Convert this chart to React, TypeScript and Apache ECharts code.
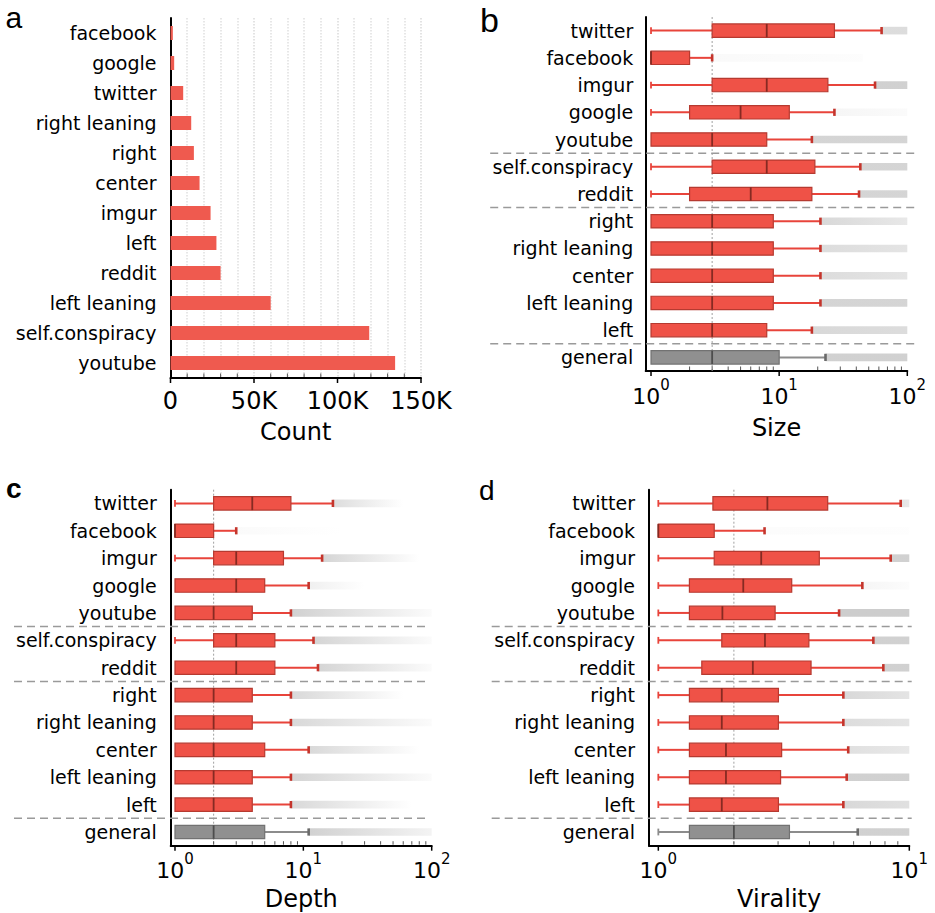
import React, { useEffect, useRef } from 'react';
import * as echarts from 'echarts';

const FONT = 'DejaVu Sans';

// ---- Panel a: counts ----
const countCategories = ['facebook', 'google', 'twitter', 'right leaning', 'right', 'center', 'imgur', 'left', 'reddit', 'left leaning', 'self.conspiracy', 'youtube'];
const countValues = [1400, 2200, 7600, 12400, 14000, 17400, 24000, 27500, 30000, 60000, 119000, 134500];
const countMajorTicks = [0, 50000, 100000, 150000];
const countTickLabels = ['0', '50K', '100K', '150K'];
const countMinorTicks = [10000, 20000, 30000, 40000, 60000, 70000, 80000, 90000, 110000, 120000, 130000, 140000];

// ---- Panels b, c, d: box plots ----
const boxCategories = ['twitter', 'facebook', 'imgur', 'google', 'youtube', 'self.conspiracy', 'reddit', 'right', 'right leaning', 'center', 'left leaning', 'left', 'general'];
const groupBreaks = [4, 6, 11];

// Size
const sizeMin = [1, 1, 1, 1, 1, 1, 1, 1, 1, 1, 1, 1, 1];
const sizeQ1 = [3, 1, 3, 2, 1, 3, 2, 1, 1, 1, 1, 1, 1];
const sizeMed = [8, 1, 8, 5, 3, 8, 6, 3, 3, 3, 3, 3, 3];
const sizeQ3 = [27, 2, 24, 12, 8, 19, 18, 9, 9, 9, 9, 8, 10];
const sizeMax = [63, 3, 56, 27, 18, 43, 42, 21, 21, 21, 21, 18, 23];
const sizeOutEnd = [100, 45, 100, 100, 100, 100, 100, 100, 100, 100, 100, 100, 100];
const sizeOutA0 = [0.45, 0.07, 0.6, 0.12, 0.55, 0.55, 0.55, 0.5, 0.45, 0.45, 0.55, 0.5, 0.6];
const sizeOutA1 = [0.45, 0.03, 0.6, 0.06, 0.55, 0.55, 0.55, 0.3, 0.35, 0.35, 0.55, 0.45, 0.6];

// Depth
const depthMin = [1, 1, 1, 1, 1, 1, 1, 1, 1, 1, 1, 1, 1];
const depthQ1 = [2, 1, 2, 1, 1, 2, 1, 1, 1, 1, 1, 1, 1];
const depthMed = [4, 1, 3, 3, 2, 3, 3, 2, 2, 2, 2, 2, 2];
const depthQ3 = [8, 2, 7, 5, 4, 6, 6, 4, 4, 5, 4, 4, 5];
const depthMax = [17, 3, 14, 11, 8, 12, 13, 8, 8, 11, 8, 8, 11];
const depthOutEnd = [60, 20, 80, 30, 100, 100, 100, 60, 100, 80, 100, 70, 100];
const depthOutA0 = [0.45, 0.06, 0.55, 0.2, 0.6, 0.55, 0.55, 0.5, 0.5, 0.5, 0.55, 0.5, 0.6];
const depthOutA1 = [0, 0, 0, 0, 0.05, 0.05, 0.05, 0, 0.05, 0, 0.05, 0, 0.15];

// Virality
const virMin = [1, 1, 1, 1, 1, 1, 1, 1, 1, 1, 1, 1, 1];
const virQ1 = [1.65, 1, 1.67, 1.33, 1.33, 1.79, 1.49, 1.33, 1.33, 1.33, 1.33, 1.33, 1.33];
const virMed = [2.72, 1, 2.57, 2.18, 1.8, 2.66, 2.38, 1.79, 1.79, 1.86, 1.86, 1.79, 2.0];
const virQ3 = [4.73, 1.67, 4.38, 3.4, 2.92, 3.98, 4.06, 3.01, 3.01, 3.1, 3.07, 3.01, 3.33];
const virMax = [9.24, 2.65, 8.43, 6.5, 5.25, 7.19, 7.88, 5.46, 5.46, 5.71, 5.63, 5.46, 6.23];
const virOutEnd = [10, 10, 10, 10, 10, 10, 10, 10, 10, 10, 10, 10, 10];
const virOutA0 = [0.35, 0.04, 0.6, 0.12, 0.65, 0.6, 0.6, 0.5, 0.45, 0.4, 0.6, 0.5, 0.6];
const virOutA1 = [0.3, 0.02, 0.6, 0.04, 0.65, 0.6, 0.6, 0.35, 0.35, 0.3, 0.6, 0.4, 0.6];

// log tick labels
const logMajors2 = [1, 10, 100];
const logMinors2 = [2, 3, 4, 5, 6, 7, 8, 9, 20, 30, 40, 50, 60, 70, 80, 90];
const logMajors1 = [1, 10];
const logMinors1 = [2, 3, 4, 5, 6, 7, 8, 9];
const logExponents = ['0', '1', '2'];

const RED_FILL = '#ef5247';
const RED_BORDER = '#b63a30';
const RED_MED = '#862a22';
const RED_WHISK = '#e8443b';
const GRAY_FILL = '#909090';
const GRAY_BORDER = '#727272';
const GRAY_MED = '#4d4d4d';
const GRAY_WHISK = '#8c8c8c';

function renderBox(params: any, api: any) {
  const i = api.value(0);
  const cs = params.coordSys;
  const band = cs.height / boxCategories.length;
  const h = band * 0.49;
  const y = api.coord([1, i])[1];
  const xs = [1, 2, 3, 4, 5].map((d) => api.coord([api.value(d), i])[0]);
  const general = boxCategories[i] === 'general';
  const fill = general ? GRAY_FILL : RED_FILL;
  const border = general ? GRAY_BORDER : RED_BORDER;
  const med = general ? GRAY_MED : RED_MED;
  const wh = general ? GRAY_WHISK : RED_WHISK;
  const capDark = general ? '#6a6a6a' : '#c4352c';
  const children: any[] = [];
  if (xs[1] > xs[0] + 0.5) {
    children.push({ type: 'line', shape: { x1: xs[0], y1: y, x2: xs[1], y2: y }, style: { stroke: wh, lineWidth: 2 } });
    children.push({ type: 'line', shape: { x1: xs[0], y1: y - 3.4, x2: xs[0], y2: y + 3.4 }, style: { stroke: wh, lineWidth: 1.8 } });
  }
  if (xs[4] > xs[3] + 0.5) {
    children.push({ type: 'line', shape: { x1: xs[3], y1: y, x2: xs[4], y2: y }, style: { stroke: wh, lineWidth: 2 } });
    children.push({ type: 'line', shape: { x1: xs[4], y1: y - 3.6, x2: xs[4], y2: y + 3.6 }, style: { stroke: capDark, lineWidth: 2.6 } });
  }
  children.push({
    type: 'rect',
    shape: { x: xs[1], y: y - h / 2, width: Math.max(xs[3] - xs[1], 0), height: h },
    style: { fill, stroke: border, lineWidth: 1.2 },
  });
  children.push({ type: 'line', shape: { x1: xs[2], y1: y - h / 2, x2: xs[2], y2: y + h / 2 }, style: { stroke: med, lineWidth: 1.8 } });
  return { type: 'group', children };
}

function renderOutliers(params: any, api: any) {
  const i = api.value(0);
  const cs = params.coordSys;
  const band = cs.height / boxCategories.length;
  const h = band * 0.28;
  const p1 = api.coord([api.value(1), i]);
  const p2 = api.coord([api.value(2), i]);
  const a0 = api.value(3);
  const a1 = api.value(4);
  return {
    type: 'rect',
    shape: { x: p1[0], y: p1[1] - h / 2, width: Math.max(p2[0] - p1[0], 0), height: h },
    style: {
      fill: new echarts.graphic.LinearGradient(0, 0, 1, 0, [
        { offset: 0, color: `rgba(178,178,178,${a0})` },
        { offset: 1, color: `rgba(178,178,178,${a1})` },
      ]),
    },
  };
}

function makeSeparatorRenderer(leftExt: number, rightExt: number) {
  return (params: any, api: any) => {
    const cs = params.coordSys;
    const band = cs.height / boxCategories.length;
    const y = api.coord([api.value(0), api.value(1)])[1] + band / 2;
    return {
      type: 'line',
      shape: { x1: cs.x - leftExt, y1: y, x2: cs.x + cs.width + rightExt, y2: y },
      style: { stroke: '#9a9a9a', lineWidth: 1.5, lineDash: [8, 5] },
    };
  };
}

function renderRefLine(params: any, api: any) {
  const cs = params.coordSys;
  const x = api.coord([api.value(0), 0])[0];
  return {
    type: 'line',
    shape: { x1: x, y1: cs.y, x2: x, y2: cs.y + cs.height },
    style: { stroke: '#a0a0a0', lineWidth: 1, lineDash: [2, 2] },
  };
}

function renderTick(params: any, api: any) {
  const cs = params.coordSys;
  const x = api.coord([api.value(0), 0])[0];
  const yb = cs.y + cs.height;
  if (api.value(2) === 1) {
    return { type: 'line', shape: { x1: x, y1: yb, x2: x, y2: yb + 5 }, style: { stroke: '#000', lineWidth: 1.5 } };
  }
  return { type: 'line', shape: { x1: x, y1: yb - 1, x2: x, y2: yb - 4.5 }, style: { stroke: '#555', lineWidth: 1 } };
}

function tickSeries(idx: number, majors: number[], minors: number[]) {
  return {
    type: 'custom',
    xAxisIndex: idx,
    yAxisIndex: idx,
    clip: false,
    silent: true,
    z: 10,
    encode: { x: 0, y: 1 },
    data: [...majors.map((v) => [v, 0, 1]), ...minors.map((v) => [v, 0, 0])],
    renderItem: renderTick,
  };
}

function boxPanelSeries(
  idx: number,
  mins: number[], q1: number[], med: number[], q3: number[], max: number[],
  outEnd: number[], a0: number[], a1: number[],
  sepLeft: number, sepRight: number,
  majors: number[], minors: number[]
) {
  const gi = boxCategories.indexOf('general');
  return [
    {
      type: 'custom', xAxisIndex: idx, yAxisIndex: idx, clip: false, silent: true, z: 1,
      encode: { x: [1, 2], y: 0 },
      data: boxCategories.map((_, i) => [i, max[i], outEnd[i], a0[i], a1[i]]),
      renderItem: renderOutliers,
    },
    {
      type: 'custom', xAxisIndex: idx, yAxisIndex: idx, clip: false, silent: true, z: 2,
      encode: { x: 0, y: 1 },
      data: [[med[gi], 0]],
      renderItem: renderRefLine,
    },
    {
      type: 'custom', xAxisIndex: idx, yAxisIndex: idx, clip: false, silent: true, z: 3,
      encode: { x: [1, 2, 3, 4, 5], y: 0 },
      data: boxCategories.map((_, i) => [i, mins[i], q1[i], med[i], q3[i], max[i]]),
      renderItem: renderBox,
    },
    {
      type: 'custom', xAxisIndex: idx, yAxisIndex: idx, clip: false, silent: true, z: 4,
      encode: { x: 0, y: 1 },
      data: groupBreaks.map((b) => [1, b]),
      renderItem: makeSeparatorRenderer(sepLeft, sepRight),
    },
    tickSeries(idx, majors, minors),
  ];
}

const logLabel = {
  margin: 6,
  color: '#000',
  fontSize: 22,
  fontFamily: FONT,
  formatter: (v: number) => {
    const e = Math.log10(v);
    const r = Math.round(e);
    if (Math.abs(e - r) > 1e-6) return '';
    return `{b|10}{s|${logExponents[r]}}`;
  },
  rich: {
    b: { fontSize: 22, fontFamily: FONT, color: '#000', lineHeight: 30, verticalAlign: 'bottom' },
    s: { fontSize: 15, fontFamily: FONT, color: '#000', lineHeight: 16, verticalAlign: 'top' },
  },
};

function logXAxis(idx: number, min: number, max: number, name: string, nameGap: number) {
  return {
    type: 'log',
    logBase: 10,
    gridIndex: idx,
    min,
    max,
    axisLine: { show: true, lineStyle: { color: '#000', width: 2 } },
    axisTick: { show: false },
    minorTick: { show: false },
    splitLine: { show: false },
    axisLabel: logLabel,
    name,
    nameLocation: 'middle',
    nameGap,
    nameTextStyle: { fontSize: 24, fontFamily: FONT, color: '#000' },
  };
}

function catYAxis(idx: number, data: string[], margin: number) {
  return {
    type: 'category',
    gridIndex: idx,
    data,
    inverse: true,
    axisLine: { show: true, lineStyle: { color: '#000', width: 2 } },
    axisTick: { show: false },
    splitLine: { show: false },
    axisLabel: { fontSize: 19, fontFamily: FONT, color: '#000', margin },
  };
}

function buildOption(): any {
  return {
    animation: false,
    backgroundColor: '#fff',
    textStyle: { fontFamily: FONT },
    grid: [
      { left: 170.5, top: 18, width: 250.5, height: 360, outerBoundsMode: 'none' },
      { left: 645.7, top: 17, width: 261.6, height: 354, outerBoundsMode: 'none' },
      { left: 170.7, top: 489.7, width: 261, height: 356, outerBoundsMode: 'none' },
      { left: 649, top: 489.7, width: 260.3, height: 356, outerBoundsMode: 'none' },
    ],
    xAxis: [
      {
        type: 'value',
        gridIndex: 0,
        min: 0,
        max: 150000,
        interval: 50000,
        axisLine: { show: true, lineStyle: { color: '#000', width: 2 } },
        axisTick: { show: false },
        minorTick: { show: false, splitNumber: 5 },
        splitLine: { show: true, lineStyle: { type: 'dotted', color: '#dadada', width: 1.5 } },
        minorSplitLine: { show: true, lineStyle: { type: 'dotted', color: '#e0e0e0', width: 1.5 } },
        axisLabel: {
          fontSize: 24,
          fontFamily: FONT,
          color: '#000',
          margin: 11,
          formatter: (v: number) => {
            const k = countMajorTicks.indexOf(v);
            return k >= 0 ? countTickLabels[k] : '';
          },
        },
        name: 'Count',
        nameLocation: 'middle',
        nameGap: 42,
        nameTextStyle: { fontSize: 24, fontFamily: FONT, color: '#000' },
      },
      logXAxis(1, 0.909, 100, 'Size', 45),
      logXAxis(2, 0.926, 100, 'Depth', 41.5),
      logXAxis(3, 0.918, 10, 'Virality', 41.5),
    ],
    yAxis: [
      catYAxis(0, countCategories, 14),
      catYAxis(1, boxCategories, 12.5),
      catYAxis(2, boxCategories, 14),
      catYAxis(3, boxCategories, 14),
    ],
    series: [
      {
        type: 'bar',
        xAxisIndex: 0,
        yAxisIndex: 0,
        data: countValues,
        barWidth: 14,
        itemStyle: { color: '#ef5a4f' },
        silent: true,
        z: 3,
      },
      tickSeries(0, countMajorTicks, countMinorTicks),
      ...boxPanelSeries(1, sizeMin, sizeQ1, sizeMed, sizeQ3, sizeMax, sizeOutEnd, sizeOutA0, sizeOutA1, 155.5, 11, logMajors2, logMinors2),
      ...boxPanelSeries(2, depthMin, depthQ1, depthMed, depthQ3, depthMax, depthOutEnd, depthOutA0, depthOutA1, 156.7, -3.7, logMajors2, logMinors2),
      ...boxPanelSeries(3, virMin, virQ1, virMed, virQ3, virMax, virOutEnd, virOutA0, virOutA1, 157.3, 2.4, logMajors1, logMinors1),
    ],
    graphic: [
      { type: 'text', x: 5.5, y: 17.5, style: { text: 'a', fontSize: 30, fontFamily: 'Liberation Sans', fill: '#000', verticalAlign: 'middle' } },
      { type: 'text', x: 480, y: 19.5, style: { text: 'b', fontSize: 34, fontFamily: 'Liberation Sans', fill: '#000', verticalAlign: 'middle' } },
      { type: 'text', x: 6, y: 488, style: { text: 'c', fontSize: 28, fontWeight: 'bold', fontFamily: 'Liberation Sans', fill: '#000', verticalAlign: 'middle' } },
      { type: 'text', x: 479, y: 490.5, style: { text: 'd', fontSize: 28, fontFamily: 'Liberation Sans', fill: '#000', verticalAlign: 'middle' } },
    ],
  };
}

export default function App() {
  const ref = useRef<HTMLDivElement>(null);
  useEffect(() => {
    document.body.style.margin = '0';
    const chart = echarts.init(ref.current as HTMLDivElement, null, { renderer: 'svg' });
    chart.setOption(buildOption());
    return () => chart.dispose();
  }, []);
  return <div ref={ref} style={{ position: 'absolute', left: 0, top: 0, width: 935, height: 913 }} />;
}
